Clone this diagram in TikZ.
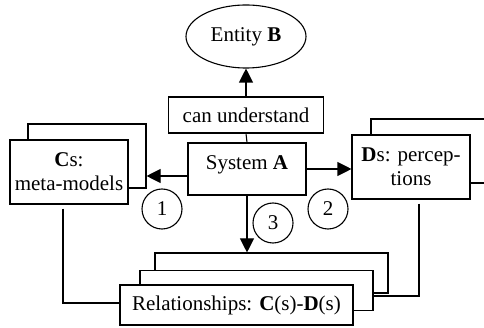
\documentclass[tikz,border=0pt]{standalone}
\usepackage{fontspec}
\setmainfont{Liberation Serif}
\usepackage{tikz}
\usetikzlibrary{arrows.meta,shapes}

\begin{document}
\begin{tikzpicture}[x=1pt,y=-1pt]
    \fontsize{21}{24}\selectfont

    \tikzset{LN/.style={draw=black,solid,line width=1.1pt}}
    \tikzset{AR/.style={LN,-{Triangle[length=14pt,width=14pt]}}}
    \tikzset{BX/.style={LN,fill=white,shape=rectangle,inner sep=0pt,align=center}}
    \tikzset{EL/.style={LN,ellipse,inner sep=0pt,minimum width=120pt,minimum height=63pt}}
    \tikzset{NC/.style={LN,circle,inner sep=0pt,minimum size=40pt}}

    \useasboundingbox (0,0) rectangle (484,328);
    \clip (0,0) rectangle (484,328);

    \node (entB) [EL] at (246,36.5) {Entity \textbf{B}};
    \node (under) [BX,minimum width=155pt,minimum height=36pt] at (246,115) {can understand};
    \node (sysA) [BX,minimum width=118pt,minimum height=52pt,text depth=12pt] at (247,169) {System \textbf{A}};

    % meta-models, two sheets
    \node (csback) [BX,minimum width=118pt,minimum height=64pt] at (87,156) {};
    \node (cs) [BX,minimum width=118pt,minimum height=64pt] at (69,172) {\textbf{C}s:\\meta-models};

    % perceptions, two sheets
    \node (dsback) [BX,minimum width=118pt,minimum height=64pt] at (430,151) {};
    \node (ds) [BX,minimum width=118pt,minimum height=64pt] at (411,167) {\textbf{D}s: percep-\\tions};

    % relationships, three sheets
    \node (relback) [BX,minimum width=233pt,minimum height=40pt] at (271.5,273) {};
    \node (relmid) [BX,minimum width=233pt,minimum height=40pt] at (256.5,290.5) {};
    \node (rel) [BX,minimum width=233pt,minimum height=40pt] at (236.5,305) {Relationships: \textbf{C}(s)-\textbf{D}(s)};

    \node (n1) [NC] at (162,209) {1};
    \node (n2) [NC] at (328,209) {2};
    \node (n3) [NC] at (273,223) {3};

    \coordinate (aL) at ([yshift=-7pt]sysA.west);
    \coordinate (cL) at ([xshift=-6pt,yshift=-4pt]cs.south);
    \coordinate (dL) at ([xshift=8pt,yshift=-4pt]ds.south);
    \coordinate (mR) at ([yshift=-5.5pt]relmid.east);

    \path[AR] (under.north) -- (entB.south);
    \path[LN] (under.south) -- (sysA.north);
    \path[AR] (aL) -- (aL -| csback.east);
    \path[AR] (sysA.east) -- (sysA.east -| ds.west);
    \path[AR] (sysA.south) -- (sysA.south |- relback.north);
    \path[LN] (cL) |- ([yshift=2pt]rel.west);
    \path[LN] (dL) |- (mR);
\end{tikzpicture}
\end{document}
